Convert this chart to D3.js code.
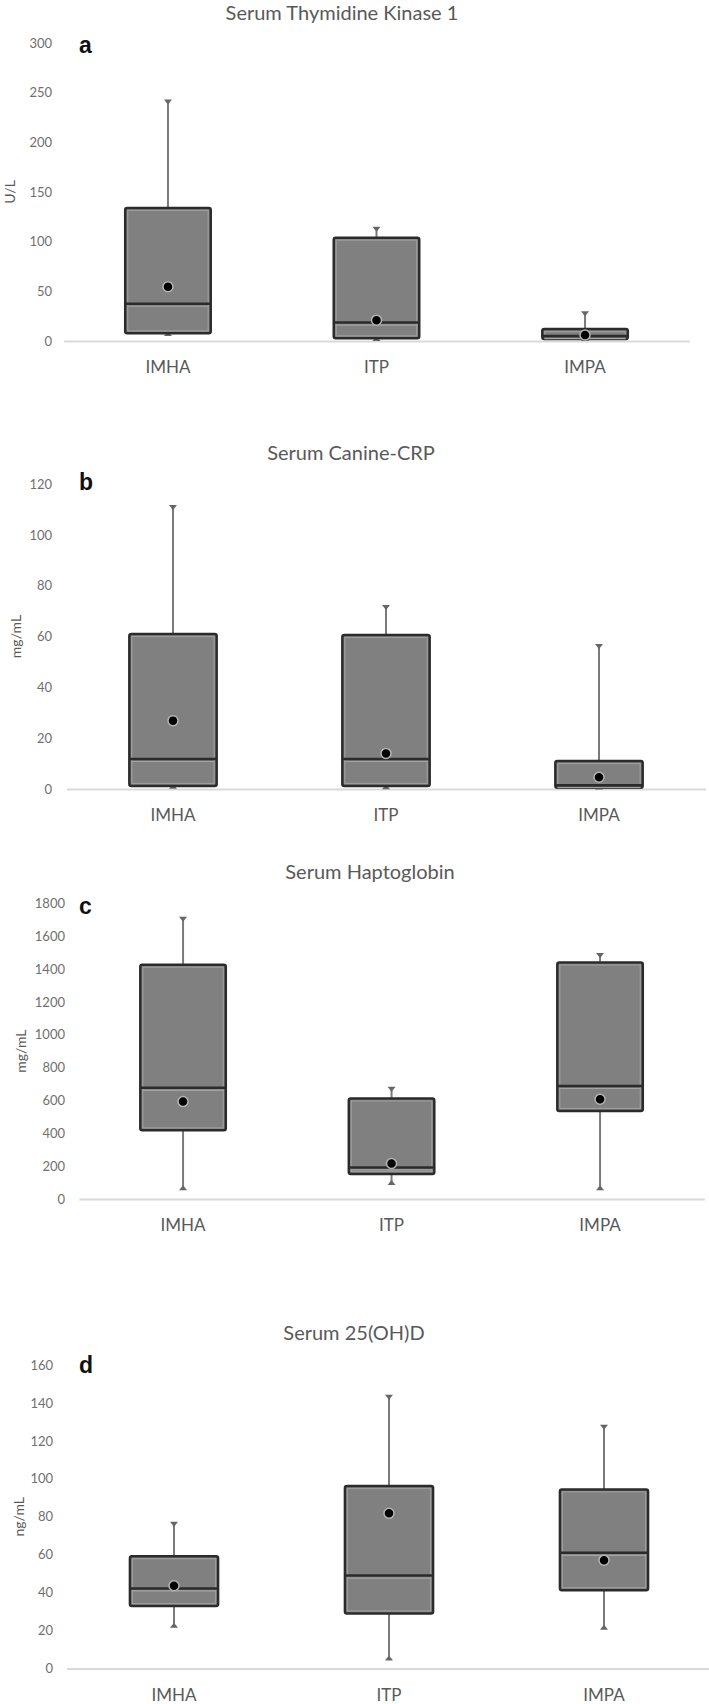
<!DOCTYPE html>
<html>
<meta charset="utf-8">
<style>
body { margin: 0; background: #fff; }
svg { display: block; }
</style>
<script src="https://d3js.org/d3.v7.min.js"></script>
<body>
<div id="chart"></div>
<script>
// group names on the x axis
var categories = ["IMHA", "ITP", "IMPA"];

// box stats per group: [min, q1, median, q3, max]
var tkBoxes = [[6, 7.7, 37.5, 134, 242], [1, 2.7, 18.5, 104, 114], [1, 2, 5, 12, 29]];
var tkMeans = [54.6, 21, 6];
var tkTicks = [0, 50, 100, 150, 200, 250, 300];

var crpBoxes = [[0.5, 1.2, 11.8, 61, 111.3], [0.3, 1.2, 11.8, 60.6, 72], [0.2, 0.5, 1.5, 11, 56.7]];
var crpMeans = [26.9, 14, 4.6];
var crpTicks = [0, 20, 40, 60, 80, 100, 120];

var hpBoxes = [[60, 418, 677, 1426, 1712], [91, 152, 192, 612, 677], [60, 536, 688, 1440, 1492]];
var hpMeans = [593, 216, 607];
var hpTicks = [0, 200, 400, 600, 800, 1000, 1200, 1400, 1600, 1800];

var vdBoxes = [[22, 32.9, 42.2, 59.2, 76.8], [4.7, 29, 49, 96.2, 143.8], [21, 41.3, 61, 94.4, 128]];
var vdMeans = [43.6, 81.8, 57.1];
var vdTicks = [0, 20, 40, 60, 80, 100, 120, 140, 160];

var width = 709, height = 1704;

// layout of the four stacked panels
var panels = [
    { title: "Serum Thymidine Kinase 1", letter: "a", unit: "U/L", boxes: tkBoxes, means: tkMeans, ticks: tkTicks,
      titleX: 342, titleY: 20, top: 43, bottom: 341, x0: 63.7, x1: 689.3, tickX: 52, unitX: 10, letterY: 53 },
    { title: "Serum Canine-CRP", letter: "b", unit: "mg/mL", boxes: crpBoxes, means: crpMeans, ticks: crpTicks,
      titleX: 351, titleY: 460, top: 484, bottom: 789, x0: 66.5, x1: 705.5, tickX: 52, unitX: 16, letterY: 490 },
    { title: "Serum Haptoglobin", letter: "c", unit: "mg/mL", boxes: hpBoxes, means: hpMeans, ticks: hpTicks,
      titleX: 370, titleY: 879, top: 903.3, bottom: 1199, x0: 78.8, x1: 704.3, tickX: 65, unitX: 21, letterY: 914 },
    { title: "Serum 25(OH)D", letter: "d", unit: "ng/mL", boxes: vdBoxes, means: vdMeans, ticks: vdTicks,
      titleX: 354, titleY: 1340, top: 1365, bottom: 1668.5, x0: 66.5, x1: 711.5, tickX: 53, unitX: 19, letterY: 1373 }
];

var font = "Lato, 'Open Sans', sans-serif";

var svg = d3.select("#chart")
    .append("svg")
    .attr("width", width)
    .attr("height", height);

panels.forEach(function(p) {
    var g = svg.append("g");

    var x = d3.scaleBand()
        .domain(categories)
        .range([p.x0, p.x1])
        .paddingInner(0.59)
        .paddingOuter(0.295);

    var y = d3.scaleLinear()
        .domain([0, d3.max(p.ticks)])
        .range([p.bottom, p.top]);

    // title
    g.append("text")
        .attr("x", p.titleX)
        .attr("y", p.titleY)
        .attr("text-anchor", "middle")
        .attr("font-family", font)
        .attr("font-size", 20)
        .attr("fill", "#595959")
        .text(p.title);

    // panel letter
    g.append("text")
        .attr("x", 79)
        .attr("y", p.letterY)
        .attr("font-family", "'Liberation Sans', Arial, sans-serif")
        .attr("font-weight", "bold")
        .attr("font-size", 23)
        .attr("fill", "#111")
        .text(p.letter);

    // unit label
    g.append("text")
        .attr("transform", "translate(" + p.unitX + "," + (p.top + p.bottom) / 2 + ") rotate(-90)")
        .attr("dy", "0.35em")
        .attr("text-anchor", "middle")
        .attr("font-family", font)
        .attr("font-size", 14)
        .attr("fill", "#595959")
        .text(p.unit);

    // y axis: labels only
    var yAxis = g.append("g")
        .attr("transform", "translate(" + p.tickX + ",0)")
        .call(d3.axisLeft(y).tickValues(p.ticks).tickFormat(d3.format("d")).tickSize(0).tickPadding(0));
    yAxis.select(".domain").remove();
    yAxis.selectAll("text")
        .attr("font-family", font)
        .attr("font-size", 13)
        .attr("fill", "#6f6f6f");

    // x axis: light baseline + group names
    var xAxis = g.append("g")
        .attr("transform", "translate(0," + y(0) + ")")
        .call(d3.axisBottom(x).tickSize(0).tickPadding(20));
    xAxis.select(".domain")
        .attr("stroke", "#d9d9d9")
        .attr("stroke-width", 2);
    xAxis.selectAll("text")
        .attr("font-family", font)
        .attr("font-size", 17)
        .attr("fill", "#595959");

    var bw = x.bandwidth();

    var box = g.selectAll(".box")
        .data(p.boxes)
        .enter()
        .append("g")
        .attr("class", "box")
        .attr("transform", function(d, i) { return "translate(" + (x(categories[i]) + bw / 2) + ",0)"; });

    // whiskers
    box.append("line")
        .attr("y1", function(d) { return y(d[4]); })
        .attr("y2", function(d) { return y(d[3]); })
        .attr("stroke", "#7a7a7a")
        .attr("stroke-width", 2);
    box.append("line")
        .attr("y1", function(d) { return y(d[1]); })
        .attr("y2", function(d) { return y(d[0]); })
        .attr("stroke", "#7a7a7a")
        .attr("stroke-width", 2);

    // whisker caps (small triangles)
    box.append("path")
        .attr("d", function(d) { var t = y(d[4]); return "M-4," + (t - 1) + "H4L0," + (t + 4) + "Z"; })
        .attr("fill", "#666");
    box.append("path")
        .attr("d", function(d) { var b = y(d[0]); return "M-4," + (b + 1) + "H4L0," + (b - 4) + "Z"; })
        .attr("fill", "#666");

    // box
    box.append("rect")
        .attr("x", -bw / 2)
        .attr("width", bw)
        .attr("y", function(d) { return y(d[3]); })
        .attr("height", function(d) { return Math.max(1, y(d[1]) - y(d[3])); })
        .attr("rx", 2)
        .attr("fill", "#808080")
        .attr("stroke", "#2b2b2b")
        .attr("stroke-width", 2.5);
    box.append("rect")
        .attr("x", -bw / 2 + 2.5)
        .attr("width", bw - 5)
        .attr("y", function(d) { return y(d[3]) + 2.5; })
        .attr("height", function(d) { return Math.max(0, y(d[1]) - y(d[3]) - 5); })
        .attr("fill", "none")
        .attr("stroke", "#9c9c9c")
        .attr("stroke-width", 1.2);

    // median
    box.append("line")
        .attr("x1", -bw / 2 + 2)
        .attr("x2", bw / 2 - 2)
        .attr("y1", function(d) { return y(d[2]) + 2.5; })
        .attr("y2", function(d) { return y(d[2]) + 2.5; })
        .attr("stroke", "#a4a4a4")
        .attr("stroke-width", 1.2);
    box.append("line")
        .attr("x1", -bw / 2)
        .attr("x2", bw / 2)
        .attr("y1", function(d) { return y(d[2]); })
        .attr("y2", function(d) { return y(d[2]); })
        .attr("stroke", "#2b2b2b")
        .attr("stroke-width", 2.5);

    // mean markers
    g.selectAll(".mean")
        .data(p.means)
        .enter()
        .append("circle")
        .attr("class", "mean")
        .attr("cx", function(d, i) { return x(categories[i]) + bw / 2; })
        .attr("cy", function(d) { return y(d); })
        .attr("r", 5)
        .attr("fill", "#000")
        .attr("stroke", "#b4b4b4")
        .attr("stroke-width", 1.5);
});
</script>
</body>
</html>
